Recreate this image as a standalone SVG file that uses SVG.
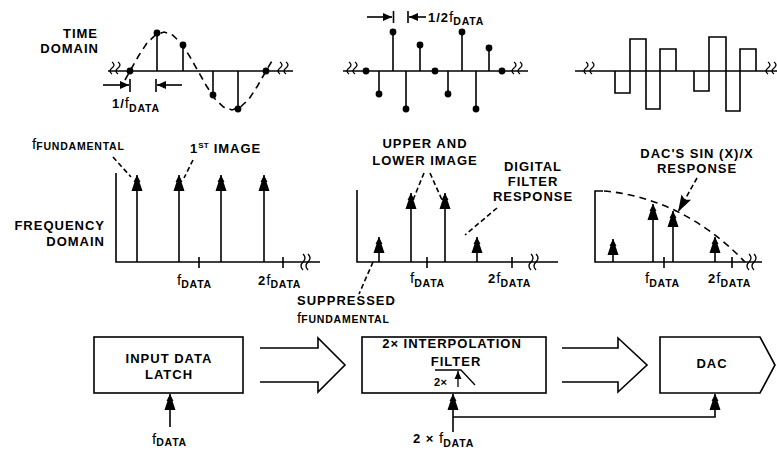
<svg xmlns="http://www.w3.org/2000/svg" width="777" height="450" viewBox="0 0 777 450">
<defs>
<style>
.ln{stroke:#000;stroke-width:1.6;fill:none}
.th{stroke:#000;stroke-width:1.3;fill:none}
.ds{stroke:#000;stroke-width:1.6;fill:none;stroke-dasharray:7 5}
.t{font-family:"Liberation Sans",Arial,sans-serif;font-weight:bold;font-size:13px;letter-spacing:1px;fill:#000}
.sb{font-size:10.5px;letter-spacing:0.8px}
.sp{font-size:8px;letter-spacing:0.3px}
.f{font-weight:normal;font-size:15px;letter-spacing:0}
.dot{fill:#000}
</style>
<marker id="tree" viewBox="-17 -7 18 14" markerWidth="18" markerHeight="14" refX="0" refY="0" orient="auto" markerUnits="userSpaceOnUse">
<path d="M0,0 L-7,-3.5 L-7,-2.5 L-16,-5.5 L-16,5.5 L-7,2.5 L-7,3.5 Z" fill="#000"/>
</marker>
<marker id="ah" viewBox="-10 -5 11 10" markerWidth="11" markerHeight="10" refX="0" refY="0" orient="auto" markerUnits="userSpaceOnUse">
<path d="M0,0 L-9,-4 L-9,4 Z" fill="#000"/>
</marker>
<marker id="big" viewBox="-18 -7 19 14" markerWidth="19" markerHeight="14" refX="0" refY="0" orient="auto" markerUnits="userSpaceOnUse">
<path d="M0,0 L-17,-5.5 L-14,0 L-17,5.5 Z" fill="#000"/>
</marker>
<marker id="sm" viewBox="-9 -4 10 8" markerWidth="10" markerHeight="8" refX="0" refY="0" orient="auto" markerUnits="userSpaceOnUse">
<path d="M0,0 L-8,-3.5 L-8,3.5 Z" fill="#000"/>
</marker>
<path id="brkH" d="M-3,-6 q4,3 0,6 q-4,3 0,6 M3,-6 q4,3 0,6 q-4,3 0,6" class="th"/>
</defs>

<!-- ===== Time domain panel 1 ===== -->
<g id="time1">
<text class="t" x="98" y="38" text-anchor="end">TIME</text>
<text class="t" x="99" y="53" text-anchor="end">DOMAIN</text>
<line class="ln" x1="108" y1="71" x2="293" y2="71"/>
<use href="#brkH" x="115" y="68"/>
<use href="#brkH" x="283" y="68"/>
<polyline class="ds" points="125,80 130,71 138.5,56 147,43 155.5,35 164,32 172.5,35 181,43 189.5,56 198,71 206.5,86 215,99 223.5,107 232,110 240.5,107 249,99 257.5,86 266,71 272,61"/>
<line class="ln" x1="157" y1="71" x2="157" y2="34"/>
<line class="ln" x1="183" y1="71" x2="183" y2="45"/>
<line class="ln" x1="213" y1="71" x2="213" y2="95"/>
<line class="ln" x1="238" y1="71" x2="238" y2="109"/>
<circle class="dot" cx="130" cy="71" r="3.4"/>
<circle class="dot" cx="157" cy="33" r="3.4"/>
<circle class="dot" cx="183" cy="45" r="3.4"/>
<circle class="dot" cx="213" cy="95" r="3.4"/>
<circle class="dot" cx="238" cy="109" r="3.4"/>
<circle class="dot" cx="266" cy="71" r="3.4"/>
<line class="ln" x1="103" y1="85" x2="129" y2="85" marker-end="url(#ah)"/>
<line class="ln" x1="130" y1="79" x2="130" y2="92"/>
<line class="ln" x1="182" y1="85" x2="157" y2="85" marker-end="url(#ah)"/>
<line class="ln" x1="156" y1="79" x2="156" y2="92"/>
<text class="t" x="112" y="108">1/<tspan class="f">f</tspan><tspan class="sb" dy="4">DATA</tspan></text>
</g>

<!-- ===== Time domain panel 2 ===== -->
<g id="time2">
<line class="ln" x1="343" y1="71" x2="528" y2="71"/>
<use href="#brkH" x="352" y="68"/>
<use href="#brkH" x="517" y="68"/>
<line class="ln" x1="379" y1="71" x2="379" y2="94"/>
<line class="ln" x1="393" y1="71" x2="393" y2="32"/>
<line class="ln" x1="406" y1="71" x2="406" y2="109"/>
<line class="ln" x1="420" y1="71" x2="420" y2="45"/>
<line class="ln" x1="448" y1="71" x2="448" y2="94"/>
<line class="ln" x1="462" y1="71" x2="462" y2="32"/>
<line class="ln" x1="476" y1="71" x2="476" y2="109"/>
<line class="ln" x1="489" y1="71" x2="489" y2="48"/>
<circle class="dot" cx="366" cy="71" r="3.4"/>
<circle class="dot" cx="379" cy="94" r="3.4"/>
<circle class="dot" cx="393" cy="32" r="3.4"/>
<circle class="dot" cx="406" cy="109" r="3.4"/>
<circle class="dot" cx="420" cy="45" r="3.4"/>
<circle class="dot" cx="435" cy="71" r="3.4"/>
<circle class="dot" cx="448" cy="94" r="3.4"/>
<circle class="dot" cx="462" cy="32" r="3.4"/>
<circle class="dot" cx="476" cy="109" r="3.4"/>
<circle class="dot" cx="489" cy="48" r="3.4"/>
<circle class="dot" cx="502" cy="71" r="3.4"/>
<line class="ln" x1="367" y1="17" x2="392" y2="17" marker-end="url(#ah)"/>
<line class="ln" x1="393.5" y1="11" x2="393.5" y2="23"/>
<line class="ln" x1="426" y1="17" x2="409" y2="17" marker-end="url(#ah)"/>
<line class="ln" x1="408" y1="11" x2="408" y2="23"/>
<text class="t" x="428" y="22">1/2<tspan class="f">f</tspan><tspan class="sb" dy="3">DATA</tspan></text>
</g>

<!-- ===== Time domain panel 3 ===== -->
<g id="time3">
<line class="ln" x1="575" y1="71" x2="777" y2="71"/>
<use href="#brkH" x="589" y="68"/>
<use href="#brkH" x="771" y="68"/>
<path class="ln" d="M615,71 V93 H630 V39 H646 V109 H660 V49 H676 V71"/>
<path class="ln" d="M694,71 V91 H709 V37 H726 V111 H740 V49 H756 V71"/>
</g>

<!-- ===== Frequency domain panel 1 ===== -->
<g id="freq1">
<text class="t" x="32" y="149"><tspan class="f">f</tspan><tspan class="sb" dy="1">FUNDAMENTAL</tspan></text>
<text class="t" x="190" y="153">1<tspan class="sp" dy="-5">ST</tspan><tspan dy="5"> IMAGE</tspan></text>
<text class="t" x="105" y="230" text-anchor="end">FREQUENCY</text>
<text class="t" x="105" y="246" text-anchor="end">DOMAIN</text>
<path class="ln" d="M116,173 V262 H320"/>
<line class="ln" x1="199" y1="257" x2="199" y2="268"/>
<line class="ln" x1="283" y1="257" x2="283" y2="268"/>
<path class="th" d="M303,254 q4,4 0,8 q-4,4 0,8 M308,254 q4,4 0,8 q-4,4 0,8"/>
<line class="ln" x1="137" y1="262" x2="137" y2="175" marker-end="url(#tree)"/>
<line class="ln" x1="179" y1="262" x2="179" y2="175" marker-end="url(#tree)"/>
<line class="ln" x1="221" y1="262" x2="221" y2="175" marker-end="url(#tree)"/>
<line class="ln" x1="264" y1="262" x2="264" y2="175" marker-end="url(#tree)"/>
<line class="ds" x1="113" y1="157" x2="131" y2="177" style="stroke-dasharray:5 3"/>
<line class="ds" x1="193" y1="160" x2="184" y2="178" style="stroke-dasharray:5 3"/>
<text class="t" x="177" y="285"><tspan class="f">f</tspan><tspan class="sb" dy="3">DATA</tspan></text>
<text class="t" x="258" y="285">2<tspan class="f">f</tspan><tspan class="sb" dy="3">DATA</tspan></text>
</g>

<!-- ===== Frequency domain panel 2 ===== -->
<g id="freq2">
<text class="t" x="425" y="148" text-anchor="middle">UPPER AND</text>
<text class="t" x="425" y="165" text-anchor="middle">LOWER IMAGE</text>
<text class="t" x="533" y="171" text-anchor="middle">DIGITAL</text>
<text class="t" x="533" y="186" text-anchor="middle">FILTER</text>
<text class="t" x="533" y="201" text-anchor="middle">RESPONSE</text>
<path class="ln" d="M357,190 V262 H558"/>
<line class="ln" x1="427" y1="257" x2="427" y2="268"/>
<line class="ln" x1="512" y1="257" x2="512" y2="268"/>
<path class="th" d="M531,254 q4,4 0,8 q-4,4 0,8 M536,254 q4,4 0,8 q-4,4 0,8"/>
<line class="ln" x1="379" y1="262" x2="379" y2="237" marker-end="url(#tree)"/>
<line class="ln" x1="411" y1="262" x2="411" y2="193" marker-end="url(#tree)"/>
<line class="ln" x1="445" y1="262" x2="445" y2="193" marker-end="url(#tree)"/>
<line class="ln" x1="477" y1="262" x2="477" y2="237" marker-end="url(#tree)"/>
<line class="ds" x1="424" y1="173" x2="413" y2="200" style="stroke-dasharray:5 3"/>
<line class="ds" x1="430" y1="173" x2="442" y2="200" style="stroke-dasharray:5 3"/>
<line class="ds" x1="497" y1="208" x2="465" y2="235" style="stroke-dasharray:5 3"/>
<line class="ds" x1="373" y1="262" x2="359" y2="294" style="stroke-dasharray:5 3"/>
<text class="t" x="410" y="283"><tspan class="f">f</tspan><tspan class="sb" dy="4">DATA</tspan></text>
<text class="t" x="488" y="283">2<tspan class="f">f</tspan><tspan class="sb" dy="4">DATA</tspan></text>
<text class="t" x="297" y="305">SUPPRESSED</text>
<text class="t" x="297" y="323"><tspan class="f">f</tspan><tspan class="sb">FUNDAMENTAL</tspan></text>
</g>

<!-- ===== Frequency domain panel 3 ===== -->
<g id="freq3">
<text class="t" x="697" y="158" text-anchor="middle">DAC'S SIN (X)/X</text>
<text class="t" x="697" y="173" text-anchor="middle">RESPONSE</text>
<path class="ln" d="M603,191 H595 V262 H762"/>
<path class="ds" d="M604,191 C650,195 700,215 745,262"/>
<line class="ln" x1="664" y1="257" x2="664" y2="268"/>
<line class="ln" x1="732" y1="257" x2="732" y2="268"/>
<path class="th" d="M749,254 q4,4 0,8 q-4,4 0,8 M754,254 q4,4 0,8 q-4,4 0,8"/>
<line class="ln" x1="613" y1="262" x2="613" y2="239" marker-end="url(#tree)"/>
<line class="ln" x1="653" y1="262" x2="653" y2="204" marker-end="url(#tree)"/>
<line class="ln" x1="673" y1="262" x2="673" y2="211" marker-end="url(#tree)"/>
<line class="ln" x1="715" y1="262" x2="715" y2="237" marker-end="url(#tree)"/>
<line class="ds" x1="697" y1="178" x2="678" y2="212" style="stroke-dasharray:5 3" marker-end="url(#big)"/>
<text class="t" x="645" y="283"><tspan class="f">f</tspan><tspan class="sb" dy="4">DATA</tspan></text>
<text class="t" x="708" y="283">2<tspan class="f">f</tspan><tspan class="sb" dy="4">DATA</tspan></text>
</g>

<!-- ===== Block diagram ===== -->
<g id="latch">
<rect class="ln" x="94" y="337" width="149" height="56"/>
<text class="t" x="169" y="363" text-anchor="middle">INPUT DATA</text>
<text class="t" x="169" y="379" text-anchor="middle">LATCH</text>
</g>
<g id="filter">
<rect class="ln" x="362" y="337" width="184" height="56"/>
<text class="t" x="452" y="348" text-anchor="middle">2× INTERPOLATION</text>
<text class="t" x="456" y="366" text-anchor="middle">FILTER</text>
<path class="th" d="M435,370 H461 L475,385"/>
<text class="t" x="434" y="386" style="font-size:11px;letter-spacing:0.5px">2×</text>
<line class="th" x1="458" y1="387" x2="458" y2="371" marker-end="url(#sm)"/>
</g>
<g id="dac">
<path class="ln" d="M660,337 H760 L775,365 L760,393 H660 Z"/>
<text class="t" x="712" y="368" text-anchor="middle">DAC</text>
</g>
<g id="clk1">
<text class="t" x="152" y="444"><tspan class="f">f</tspan><tspan class="sb" dy="2">DATA</tspan></text>
</g>
<g id="clk2">
<text class="t" x="413" y="443">2 × <tspan class="f">f</tspan><tspan class="sb" dy="4">DATA</tspan></text>
</g>

<g id="connectors">
<path class="ln" d="M260,348 H318 V338 L345,365 L318,392 V382 H260"/>
<path class="ln" d="M562,348 H618 V338 L647,365 L618,392 V382 H562"/>
<line class="ln" x1="170" y1="427" x2="170" y2="394" marker-end="url(#tree)"/>
<line class="ln" x1="453" y1="432" x2="453" y2="394" marker-end="url(#tree)"/>
<path class="ln" d="M453,417 H715 V394" marker-end="url(#tree)"/>
</g>
</svg>
